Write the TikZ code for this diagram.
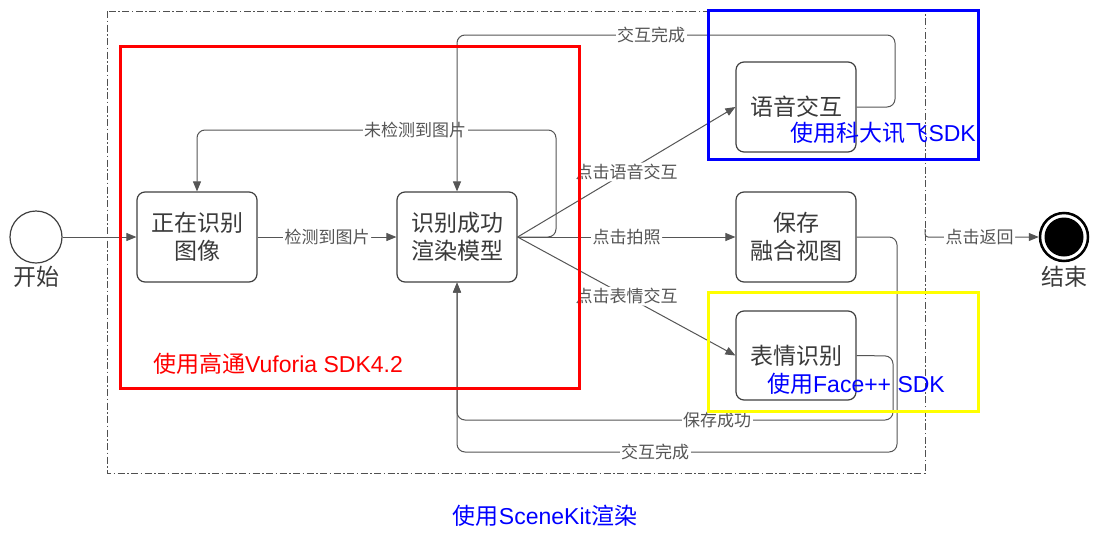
\documentclass[tikz,border=0pt]{standalone}
\usepackage{fontspec}
\setmainfont{Liberation Sans}
\newfontfamily\cjk{Noto Sans CJK SC}
\usetikzlibrary{arrows.meta}
\definecolor{boxc}{HTML}{404040}
\definecolor{txtc}{HTML}{3A3A3A}
\definecolor{lblc}{HTML}{555555}
\definecolor{linec}{HTML}{555555}
\definecolor{framec}{HTML}{505050}
\definecolor{sdkblue}{RGB}{0,0,255}
\definecolor{sdkred}{RGB}{255,0,0}
\definecolor{sdkyellow}{RGB}{255,255,0}
\tikzset{
  stepbox/.style={draw=boxc, line width=1.2pt, rounded corners=8pt, minimum width=120pt, minimum height=90pt, align=center, inner sep=0pt, font=\cjk\fontsize{23}{28}\selectfont, text=txtc},
  lbl/.style={fill=white, inner sep=1.5pt, font=\cjk\fontsize{17}{19}\selectfont, text=lblc},
  conn/.style={draw=linec, line width=1pt, rounded corners=8pt},
  arr/.style={-{Triangle[length=10pt,width=8pt]}},
  big/.style={font=\cjk\fontsize{23}{27}\selectfont, text=txtc},
  sdk/.style={font=\fontsize{23}{27}\selectfont, inner sep=0pt},
  region/.style={line width=3pt}
}
\begin{document}
\begin{tikzpicture}[x=1pt,y=-1pt]
\fill[white] (0,0) rectangle (1110,549);
\useasboundingbox (0,0) rectangle (1110,549);

% dash-dot frame
\draw[framec, line width=1pt, dash pattern=on 7pt off 2.5pt on 1.5pt off 2.5pt] (107,11) rectangle (925,473);

% start / end
\node[circle, draw=boxc, line width=1.2pt, minimum size=52pt, inner sep=0pt] (start) at (36,237) {};
\node[big] (startlbl) at (36,277) {开始};
\node[circle, draw=black, line width=2.5pt, minimum size=48pt, inner sep=0pt] (end) at (1064,237) {};
\fill[black] (end.center) circle (19.5pt);
\node[big] (endlbl) at (1064,277) {结束};

% boxes
\node[stepbox] (b1) at (197,237) {正在识别\\图像};
\node[stepbox] (b2) at (457,237) {识别成功\\渲染模型};
\node[stepbox] (voice) at (796,107) {语音交互};
\node[stepbox] (save) at (796,237) {保存\\融合视图};
\node[stepbox, minimum height=89pt] (face) at (796,355.5) {表情识别};

% connectors
\draw[conn,arr] (start) -- (b1);
\draw[conn,arr] (b1) -- node[lbl]{检测到图片} (b2);
\draw[conn,arr] (b2.east) -- (556,237) -- (556,130) -- (197,130) -- (b1.north);
\node[lbl] (l1) at (415,130) {未检测到图片};

\draw[conn,arr] (voice.east) -- (895,107) -- (895,35) -- (457,35) -- (b2.north);
\node[lbl] (l2) at (651,35) {交互完成};

\draw[conn,arr] (save.east) -- (897,237) -- (897,452) -- (457,452) -- (b2.south);
\node[lbl] (l3) at (655,452) {交互完成};
\draw[conn,arr] (face.east) -- (893,356) -- (893,420) -- (457,420) -- (b2.south);
\node[lbl] (l4) at (717,420) {保存成功};

\draw[conn,arr] (b2.east) -- node[lbl, pos=0.5]{点击语音交互} (voice.west);
\draw[conn,arr] (b2.east) -- node[lbl, pos=0.5]{点击拍照} (save.west);
\draw[conn,arr] (b2.east) -- node[lbl, pos=0.5]{点击表情交互} (face.west);

\coordinate (ret) at (925,229);
\draw[conn,arr,rounded corners=3pt] (ret) -- (925,237) -- node[lbl, pos=0.48]{点击返回} (end.west);

% SDK regions
\draw[sdkred, region] (120,46) rectangle (579,388);
\draw[sdkblue, region] (708,10) rectangle (978,159);
\draw[sdkyellow, region] (708,292) rectangle (978,411);

\node[sdk, text=sdkred, anchor=west] (redlbl) at (153,364) {{\cjk 使用高通}Vuforia SDK4.2};
\node[sdk, text=sdkblue, anchor=east] (bluelbl) at (976,133) {{\cjk 使用科大讯飞}SDK};
\node[sdk, text=sdkblue] (yellbl) at (856,384) {{\cjk 使用}Face++ SDK};
\node[sdk, text=sdkblue] (scenelbl) at (545,516) {{\cjk 使用}SceneKit{\cjk 渲染}};
\end{tikzpicture}
\end{document}
